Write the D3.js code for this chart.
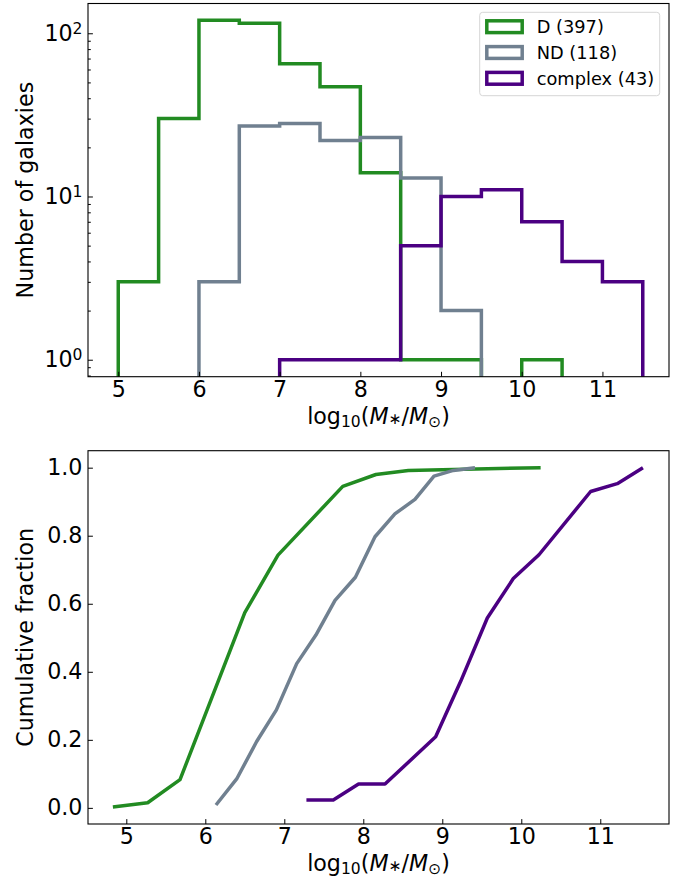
<!DOCTYPE html>
<html><head><meta charset="utf-8">
<script src="https://cdn.jsdelivr.net/npm/d3@7/dist/d3.min.js"></script>
<style>
body{margin:0;background:#fff;}
svg{display:block;font-family:"DejaVu Sans",sans-serif;}
</style></head>
<body><svg id="c" width="688" height="881"></svg>
<script>
// ---------------- DATA ----------------
const seriesNames = ["D (397)", "ND (118)", "complex (43)"];
const seriesColors = ["#228B22", "#708090", "#4B0082"];
// histogram bin edges (log10 M*/Msun) per series
const edgesD = [5, 5.5, 6, 6.5, 7, 7.5, 8, 8.5, 9, 9.5, 10, 10.5];
const countsD = [3, 30, 120, 115, 65, 47, 14, 1, 1, 0, 1];
const edgesND = [6, 6.5, 7, 7.5, 8, 8.5, 9, 9.5];
const countsND = [3, 27, 28, 22, 23, 13, 2];
const edgesC = [7, 7.5, 8, 8.5, 9, 9.5, 10, 10.5, 11, 11.5];
const countsC = [1, 1, 1, 5, 10, 11, 7, 4, 3];
// cumulative fraction curves
const cumXD = [4.83, 5.27, 5.68, 6.50, 6.92, 7.74, 8.16, 8.57, 10.245];
const cumYD = [0.0025, 0.015, 0.083, 0.574, 0.743, 0.945, 0.980, 0.992, 1.0];
const cumXND = [6.135, 6.397, 6.65, 6.90, 7.157, 7.40, 7.642, 7.90, 8.148, 8.40, 8.654, 8.895, 9.14, 9.414];
const cumYND = [0.0085, 0.085, 0.195, 0.288, 0.424, 0.508, 0.610, 0.678, 0.797, 0.864, 0.907, 0.975, 0.992, 1.0];
const cumXC = [7.28, 7.62, 7.94, 8.275, 8.916, 9.233, 9.57, 9.899, 10.224, 10.878, 11.215, 11.54];
const cumYC = [0.023, 0.023, 0.070, 0.070, 0.209, 0.372, 0.558, 0.674, 0.744, 0.930, 0.953, 1.0];
const xTicks = [5, 6, 7, 8, 9, 10, 11];
const yTicksLog = [1, 10, 100];
const yMinorLog = [0.8, 0.9, 2, 3, 4, 5, 6, 7, 8, 9, 20, 30, 40, 50, 60, 70, 80, 90];
const yTicksCum = [0.0, 0.2, 0.4, 0.6, 0.8, 1.0];

// ---------------- LAYOUT ----------------
const svg = d3.select("#c");
const L = 88, R = 669;
const T1 = 3.5, B1 = 376.7;
const T2 = 450.7, B2 = 824;
const LW = 3.5;
const tickFont = 22.2, labelFont = 22.2, legFont = 17.8;

const x1 = d3.scaleLinear().domain([4.625, 11.825]).range([L, R]);
const y1 = d3.scaleLog().domain([0.787, 152.2]).range([B1, T1]);
const x2 = d3.scaleLinear().domain([4.515, 11.87]).range([L, R]);
const y2 = d3.scaleLinear().domain([-0.0474, 1.0499]).range([B2, T2]);

const defs = svg.append("defs");
defs.append("clipPath").attr("id", "clip1").append("rect").attr("x", L).attr("y", T1).attr("width", R - L).attr("height", B1 - T1);
defs.append("clipPath").attr("id", "clip2").append("rect").attr("x", L).attr("y", T2).attr("width", R - L).attr("height", B2 - T2);

// ---------- TOP: histograms ----------
function stepPath(edges, counts) {
  const pts = [];
  const yv = c => c > 0 ? y1(c) : B1 + 20;
  pts.push([x1(edges[0]), B1 + 20]);
  counts.forEach((c, i) => {
    pts.push([x1(edges[i]), yv(c)]);
    pts.push([x1(edges[i + 1]), yv(c)]);
  });
  pts.push([x1(edges[edges.length - 1]), B1 + 20]);
  return d3.line()(pts);
}
const g1 = svg.append("g").attr("clip-path", "url(#clip1)");
[[edgesD, countsD], [edgesND, countsND], [edgesC, countsC]].forEach((s, i) => {
  g1.append("path").attr("d", stepPath(s[0], s[1]))
    .attr("fill", "none").attr("stroke", seriesColors[i]).attr("stroke-width", LW)
    .attr("stroke-linejoin", "miter");
});

// axes top
svg.append("g").attr("transform", `translate(0,${B1})`)
  .call(d3.axisBottom(x1).tickValues(xTicks).tickSize(-4.9).tickPadding(4.5).tickFormat(d3.format("d")));
const ay1 = svg.append("g").attr("transform", `translate(${L},0)`)
  .call(d3.axisLeft(y1).tickValues(yTicksLog).tickSize(-4.9).tickPadding(5.5).tickFormat(() => ""));
ay1.selectAll(".tick text").each(function (d) {
  const t = d3.select(this);
  t.append("tspan").text("10");
  t.append("tspan").attr("dy", "-0.45em").attr("font-size", tickFont * 0.7).text(Math.round(Math.log10(d)));
});
const aym1 = svg.append("g").attr("transform", `translate(${L},0)`)
  .call(d3.axisLeft(y1).tickValues(yMinorLog).tickSize(-2.8).tickFormat(() => ""));

// ---------- BOTTOM: cumulative ----------
const g2 = svg.append("g").attr("clip-path", "url(#clip2)");
const line2 = d3.line().x(d => x2(d[0])).y(d => y2(d[1]));
[[cumXD, cumYD], [cumXND, cumYND], [cumXC, cumYC]].forEach((s, i) => {
  g2.append("path").attr("d", line2(s[0].map((v, k) => [v, s[1][k]])))
    .attr("fill", "none").attr("stroke", seriesColors[i]).attr("stroke-width", LW)
    .attr("stroke-linejoin", "round");
});
svg.append("g").attr("transform", `translate(0,${B2})`)
  .call(d3.axisBottom(x2).tickValues(xTicks).tickSize(-4.9).tickPadding(4.5).tickFormat(d3.format("d")));
svg.append("g").attr("transform", `translate(${L},0)`)
  .call(d3.axisLeft(y2).tickValues(yTicksCum).tickSize(-4.9).tickPadding(5.5).tickFormat(d3.format(".1f")));

// style axes
svg.selectAll(".domain").remove();
svg.selectAll(".tick line").attr("stroke", "#000").attr("stroke-width", 1);
svg.selectAll(".tick text").attr("font-size", tickFont).attr("fill", "#000").attr("font-family", "DejaVu Sans");

// spines
[[T1, B1], [T2, B2]].forEach(([t, b]) => {
  svg.append("rect").attr("x", L).attr("y", t).attr("width", R - L).attr("height", b - t)
    .attr("fill", "none").attr("stroke", "#000").attr("stroke-width", 1.1);
});

// axis labels
function xLabel(yBase) {
  const t = svg.append("text").attr("x", (L + R) / 2).attr("y", yBase).attr("text-anchor", "middle")
    .attr("font-size", labelFont).attr("fill", "#000");
  t.append("tspan").text("log");
  t.append("tspan").attr("font-size", labelFont * 0.7).attr("dy", "0.22em").text("10");
  t.append("tspan").attr("dy", "-0.154em").text("(");
  t.append("tspan").attr("font-style", "italic").text("M");
  t.append("tspan").attr("font-size", labelFont * 0.7).attr("dy", "0.05em").text("∗");
  t.append("tspan").attr("dy", "-0.035em").text("/");
  t.append("tspan").attr("font-style", "italic").text("M");
  t.append("tspan").attr("font-size", labelFont * 0.7).attr("dy", "0.22em").text("⊙");
  t.append("tspan").attr("dy", "-0.154em").text(")");
}
xLabel(423.5);
xLabel(870.5);

function yLabel(txt, cy) {
  svg.append("text").attr("transform", `translate(32.5,${cy}) rotate(-90)`).attr("text-anchor", "middle")
    .attr("font-size", labelFont).attr("fill", "#000").text(txt);
}
yLabel("Number of galaxies", (T1 + B1) / 2);
yLabel("Cumulative fraction", (T2 + B2) / 2);

// legend
const lg = svg.append("g");
lg.append("rect").attr("x", 479.7).attr("y", 12.3).attr("width", 180).attr("height", 83.4).attr("rx", 3)
  .attr("fill", "#fff").attr("fill-opacity", 0.8).attr("stroke", "#d6d6d6").attr("stroke-width", 1);
seriesNames.forEach((n, i) => {
  const cy = 26.7 + i * 25.8;
  lg.append("rect").attr("x", 486.8).attr("y", cy - 5.9).attr("width", 35.4).attr("height", 11.8)
    .attr("fill", "none").attr("stroke", seriesColors[i]).attr("stroke-width", LW);
  lg.append("text").attr("x", 536.7).attr("y", cy + 6.4).attr("font-size", legFont).attr("fill", "#000").text(n);
});
</script></body></html>
